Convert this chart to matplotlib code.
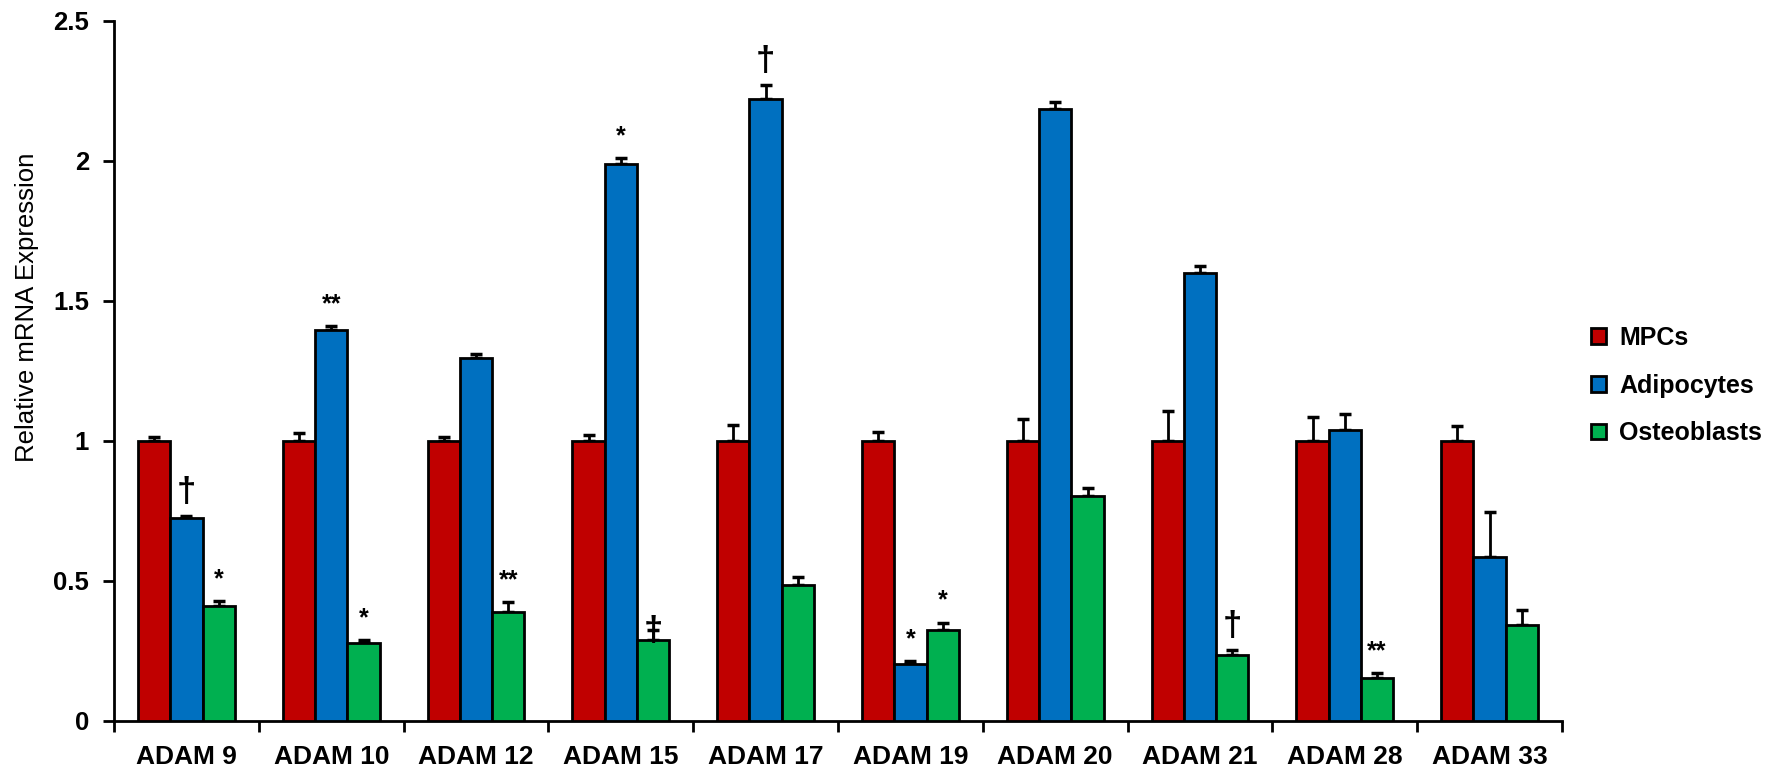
import matplotlib
matplotlib.use("Agg")
import matplotlib.pyplot as plt
import numpy as np
from matplotlib.patches import Patch

plt.rcParams['font.family'] = ['Liberation Sans', 'DejaVu Sans']

categories = ["ADAM 9", "ADAM 10", "ADAM 12", "ADAM 15", "ADAM 17",
              "ADAM 19", "ADAM 20", "ADAM 21", "ADAM 28", "ADAM 33"]
series_names = ["MPCs", "Adipocytes", "Osteoblasts"]

mpcs = [1.0, 1.0, 1.0, 1.0, 1.0, 1.0, 1.0, 1.0, 1.0, 1.0]
mpcs_err = [0.015, 0.028, 0.012, 0.022, 0.057, 0.031, 0.078, 0.105, 0.085, 0.054]

adipocytes = [0.724, 1.394, 1.295, 1.987, 2.22, 0.203, 2.183, 1.598, 1.039, 0.585]
adipocytes_err = [0.008, 0.016, 0.016, 0.021, 0.05, 0.011, 0.027, 0.026, 0.055, 0.161]

osteoblasts = [0.412, 0.278, 0.39, 0.289, 0.487, 0.325, 0.803, 0.237, 0.153, 0.343]
osteoblasts_err = [0.017, 0.011, 0.035, 0.035, 0.027, 0.026, 0.029, 0.016, 0.018, 0.053]

# significance marks: (category index, series index, symbol)
marks = [(0, 1, "†"), (0, 2, "*"),
         (1, 1, "**"), (1, 2, "*"),
         (2, 2, "**"),
         (3, 1, "*"), (3, 2, "†"),
         (4, 1, "†"),
         (5, 1, "*"), (5, 2, "*"),
         (7, 2, "†"),
         (8, 2, "**")]

colors = ["#C00000", "#0070C0", "#00B050"]
values = [mpcs, adipocytes, osteoblasts]
errors = [mpcs_err, adipocytes_err, osteoblasts_err]

fig = plt.figure(figsize=(17.88, 7.71), dpi=100)
ax = fig.add_axes([0.0638, 0.0649, 0.8098, 0.9085])

x = np.arange(len(categories))
w = 0.223
for s in range(3):
    xs = x + (s - 1) * w
    ax.bar(xs, values[s], width=w, color=colors[s], edgecolor="black",
           linewidth=2, zorder=3)
    ax.errorbar(xs, values[s], yerr=[np.zeros(len(x)), errors[s]], fmt="none",
                ecolor="black", elinewidth=2, capsize=4.5, capthick=2.5, zorder=2)

for (ci, si, sym) in marks:
    top = values[si][ci] + errors[si][ci]
    xc = ci + (si - 1) * w
    if sym == "†":
        dy = -0.005 if ci == 3 else 0.085
        ax.text(xc, top + dy, sym, ha="center", va="center",
                fontsize=25, fontweight="bold", zorder=4)
    else:
        ax.text(xc, top + 0.035, sym, ha="center", va="bottom",
                fontsize=18, fontweight="bold", zorder=4)

ax.set_xlim(-0.5, len(categories) - 0.5)
ax.set_ylim(0, 2.5)
ax.set_yticks([0, 0.5, 1, 1.5, 2, 2.5])
ax.set_yticklabels(["0", "0.5", "1", "1.5", "2", "2.5"])
ax.set_xticks(x)
ax.set_xticklabels(categories)
ax.set_xticks(np.arange(len(categories) + 1) - 0.5, minor=True)
ax.tick_params(axis="x", which="major", length=0, pad=17, labelsize=19)
ax.tick_params(axis="x", which="minor", length=8, width=2, direction="out")
ax.tick_params(axis="y", length=8, width=2, direction="out", labelsize=18.5, pad=10)
for lab in ax.get_xticklabels() + ax.get_yticklabels():
    lab.set_fontweight("bold")

for sp in ["top", "right"]:
    ax.spines[sp].set_visible(False)
ax.spines["left"].set_linewidth(2)
ax.spines["bottom"].set_linewidth(2)

ax.set_ylabel("Relative mRNA Expression", fontsize=18.5)
ax.yaxis.set_label_coords(-0.052, 0.59)

handles = [Patch(facecolor=c, edgecolor="black", linewidth=2) for c in colors]
fig.legend(handles, series_names, loc="center left", bbox_to_anchor=(0.877, 0.5),
           frameon=False, prop={"size": 18, "weight": "bold"},
           handlelength=0.6, handleheight=0.6, handletextpad=0.55, labelspacing=0.95)

fig.savefig("out.png", dpi=100)
